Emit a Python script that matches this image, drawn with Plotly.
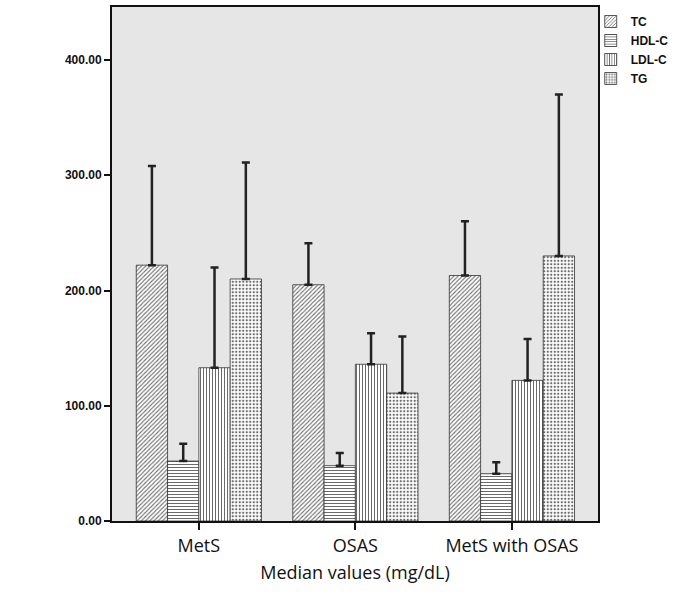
import plotly.graph_objects as go

categories = ["MetS", "OSAS", "MetS with OSAS"]
series = ["TC", "HDL-C", "LDL-C", "TG"]
values = {
    "TC": [222, 205, 213],
    "HDL-C": [52, 48, 41],
    "LDL-C": [133, 136, 122],
    "TG": [210, 111, 230],
}
upper = {
    "TC": [308, 241, 260],
    "HDL-C": [67, 59, 51],
    "LDL-C": [220, 163, 158],
    "TG": [311, 160, 370],
}
shapes_map = {"TC": "/", "HDL-C": "-", "LDL-C": "|", "TG": "."}
y_ticks = [0, 100, 200, 300, 400]

fig = go.Figure()
for s in series:
    fig.add_trace(go.Bar(
        name=s, x=categories, y=values[s],
        marker=dict(
            color="white",
            line=dict(color="#333333", width=0.8),
            pattern=dict(shape=shapes_map[s], fgcolor="#6a6a6a", bgcolor="white",
                         size=3.5 if s == "TG" else 3, solidity=0.35, fillmode="replace"),
        ),
        error_y=dict(type="data", symmetric=False,
                     array=[u - v for u, v in zip(upper[s], values[s])],
                     arrayminus=[0, 0, 0], color="#222222", thickness=2.5, width=4),
    ))

fig.update_layout(
    width=685, height=603,
    margin=dict(l=112, r=87, t=5, b=82),
    paper_bgcolor="white", plot_bgcolor="#e6e6e6",
    barmode="group", bargap=0.2, bargroupgap=0,
    font=dict(family="Arial, Liberation Sans", color="#111111"),
    legend=dict(x=0.985, y=1.0, xanchor="left", yanchor="top", xref="paper",
                font=dict(size=12, family="Liberation Sans", color="#111111", weight="bold"),
                tracegroupgap=0, itemwidth=30, bgcolor="rgba(0,0,0,0)"),
    showlegend=True,
)
fig.update_yaxes(range=[0, 446], tickvals=y_ticks, tickformat=".2f",
                 ticks="outside", ticklen=6, tickwidth=2, tickcolor="#111111",
                 showline=True, linecolor="#111111", linewidth=2, mirror=True,
                 showgrid=False, zeroline=False,
                 tickfont=dict(size=12, family="Liberation Sans", color="#111111", weight="bold"))
fig.update_xaxes(range=[-0.555, 2.55], ticks="outside", ticklen=7, tickwidth=2, tickcolor="#111111",
                 showline=True, linecolor="#111111", linewidth=2, mirror=True,
                 showgrid=False,
                 tickfont=dict(size=18, family="Open Sans", color="#111111"),
                 title=dict(text="Median values (mg/dL)", font=dict(size=18, family="Open Sans", color="#111111"),
                            standoff=11))

fig.write_html("out.html", config={"displayModeBar": False},
               post_script="document.body.style.margin='0';")
